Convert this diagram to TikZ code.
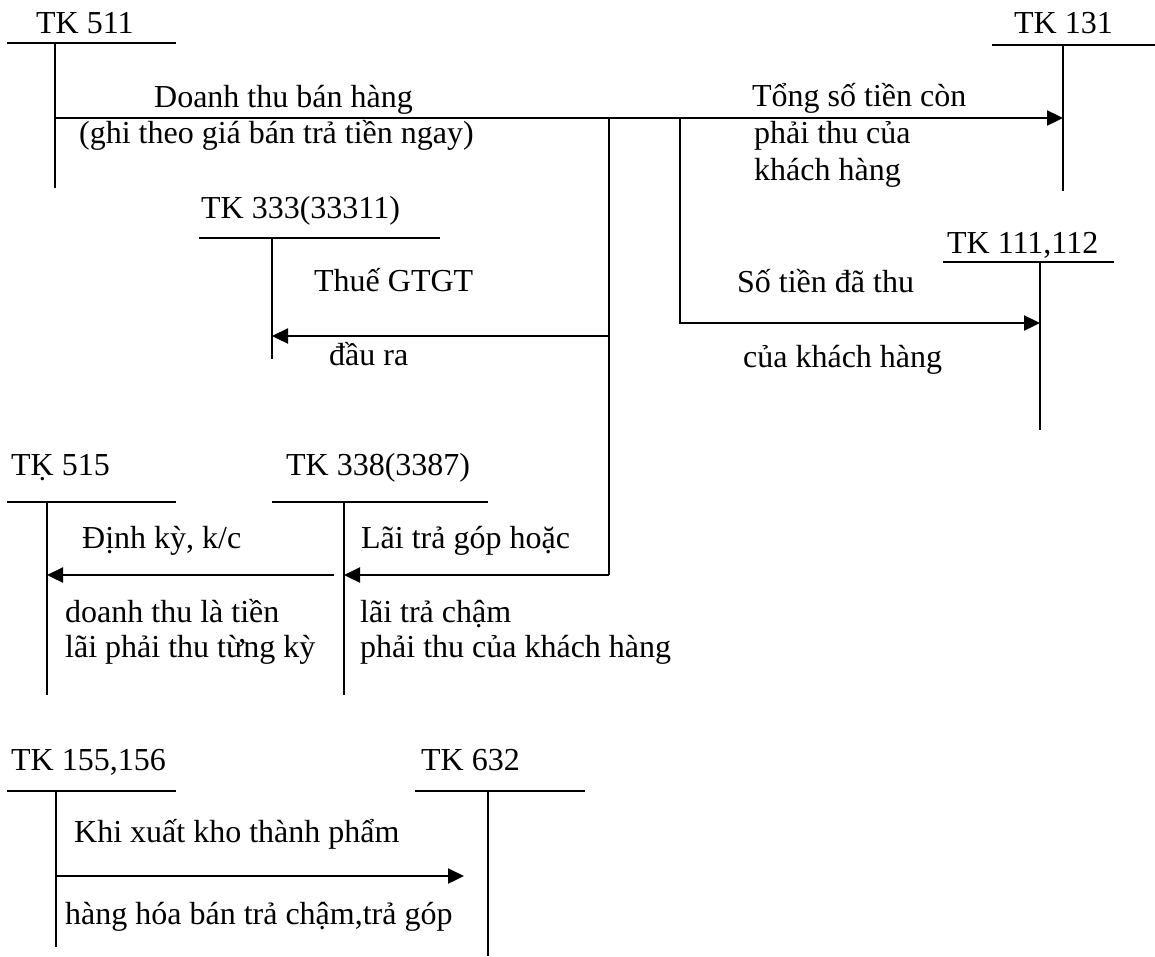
\documentclass[tikz,border=0pt]{standalone}
\usepackage{fontspec}
\setmainfont{Liberation Serif}
\usetikzlibrary{arrows.meta}
\begin{document}
\begin{tikzpicture}[x=1pt,y=-1pt,
  line width=2.3pt,
  txt/.style={inner sep=0pt,anchor=base west,font=\fontsize{32}{38}\selectfont},
  tline/.style={line width=2.3pt},
  flow/.style={line width=2.3pt,-{Triangle[length=16pt,width=15pt]}}]
\useasboundingbox (0,0) rectangle (1155,956);

% ---- T-accounts: bar ends and vertical ends ----
\coordinate (a511l) at (7,43);    \coordinate (a511r) at (176,43);
\coordinate (a511t) at (55,43);   \coordinate (a511b) at (55,188);
\coordinate (a131l) at (992,45);  \coordinate (a131r) at (1155,45);
\coordinate (a131t) at (1063,45); \coordinate (a131b) at (1063,191);
\coordinate (a333l) at (199,238); \coordinate (a333r) at (440,238);
\coordinate (a333t) at (272,238); \coordinate (a333b) at (272,359);
\coordinate (a111l) at (943,262); \coordinate (a111r) at (1114,262);
\coordinate (a111t) at (1040,262);\coordinate (a111b) at (1040,430);
\coordinate (a515l) at (7,502);   \coordinate (a515r) at (176,502);
\coordinate (a515t) at (47,502);  \coordinate (a515b) at (47,695);
\coordinate (a338l) at (272,502); \coordinate (a338r) at (488,502);
\coordinate (a338t) at (344,502); \coordinate (a338b) at (344,695);
\coordinate (a155l) at (7,791);   \coordinate (a155r) at (176,791);
\coordinate (a155t) at (56,791);  \coordinate (a155b) at (56,947);
\coordinate (a632l) at (415,791); \coordinate (a632r) at (585,791);
\coordinate (a632t) at (488,791); \coordinate (a632b) at (488,956);

\foreach \a in {511,131,333,111,515,338,155,632}{
  \draw[tline] (a\a l) -- (a\a r);
  \draw[tline] (a\a t) -- (a\a b);
}

% ---- account titles ----
\node[txt] (t511) at (35,33) {TK 511};
\node[txt] (t131) at (1013,33) {TK 131};
\node[txt] (t333) at (200,218) {TK 333(33311)};
\node[txt] (t111) at (946,253) {TK 111,112};
\node[txt] (t515) at (10,475) {TK\char"0323\ 515};
\node[txt] (t338) at (285,475) {TK 338(3387)};
\node[txt] (t155) at (10,770) {TK 155,156};
\node[txt] (t632) at (420,770) {TK 632};

% ---- flow junctions ----
\coordinate (m511) at (55,118);
\coordinate (m131) at (1063,118);
\coordinate (j1) at (609,118);
\coordinate (j2) at (680,118);
\coordinate (j1a) at (609,336);
\coordinate (j1b) at (609,575);
\coordinate (j2a) at (680,323);
\coordinate (e333) at (272,336);
\coordinate (e111) at (1040,323);
\coordinate (e338) at (344,575);
\coordinate (s338) at (334,575);
\coordinate (e515) at (47,575);
\coordinate (s155) at (56,876);
\coordinate (e632) at (464,876);

% ---- flows ----
\draw[flow] (m511) -- (m131);
\draw[tline] (j1) -- (j1b);
\draw[flow] (j1a) -- (e333);
\draw[flow] (j1b) -- (e338);
\draw[flow] (s338) -- (e515);
\draw[flow] (j2) -- (j2a) -- (e111);
\draw[flow] (s155) -- (e632);

% ---- flow labels ----
\node[txt] (l1a) at (153,107) {Doanh thu bán hàng};
\node[txt] (l1b) at (78,143) {(ghi theo giá bán trả tiền ngay)};
\node[txt] (l2a) at (751,106) {Tổng số tiền còn};
\node[txt] (l2b) at (753,143) {phải thu của};
\node[txt] (l2c) at (753,180) {khách hàng};
\node[txt] (l3a) at (313,291) {Thuế GTGT};
\node[txt] (l3b) at (328,365) {đầu ra};
\node[txt] (l4a) at (736,292) {Số tiền đã thu};
\node[txt] (l4b) at (742,367) {của khách hàng};
\node[txt] (l5a) at (81,548) {Định kỳ, k/c};
\node[txt] (l5b) at (64,622) {doanh thu là tiền};
\node[txt] (l5c) at (64,657) {lãi phải thu từng kỳ};
\node[txt] (l6a) at (360,548) {Lãi trả góp hoặc};
\node[txt] (l6b) at (359,622) {lãi trả chậm};
\node[txt] (l6c) at (359,657) {phải thu của khách hàng};
\node[txt] (l7a) at (73,842) {Khi xuất kho thành phẩm};
\node[txt] (l7b) at (64,924) {hàng hóa bán trả chậm,trả góp};
\end{tikzpicture}
\end{document}
